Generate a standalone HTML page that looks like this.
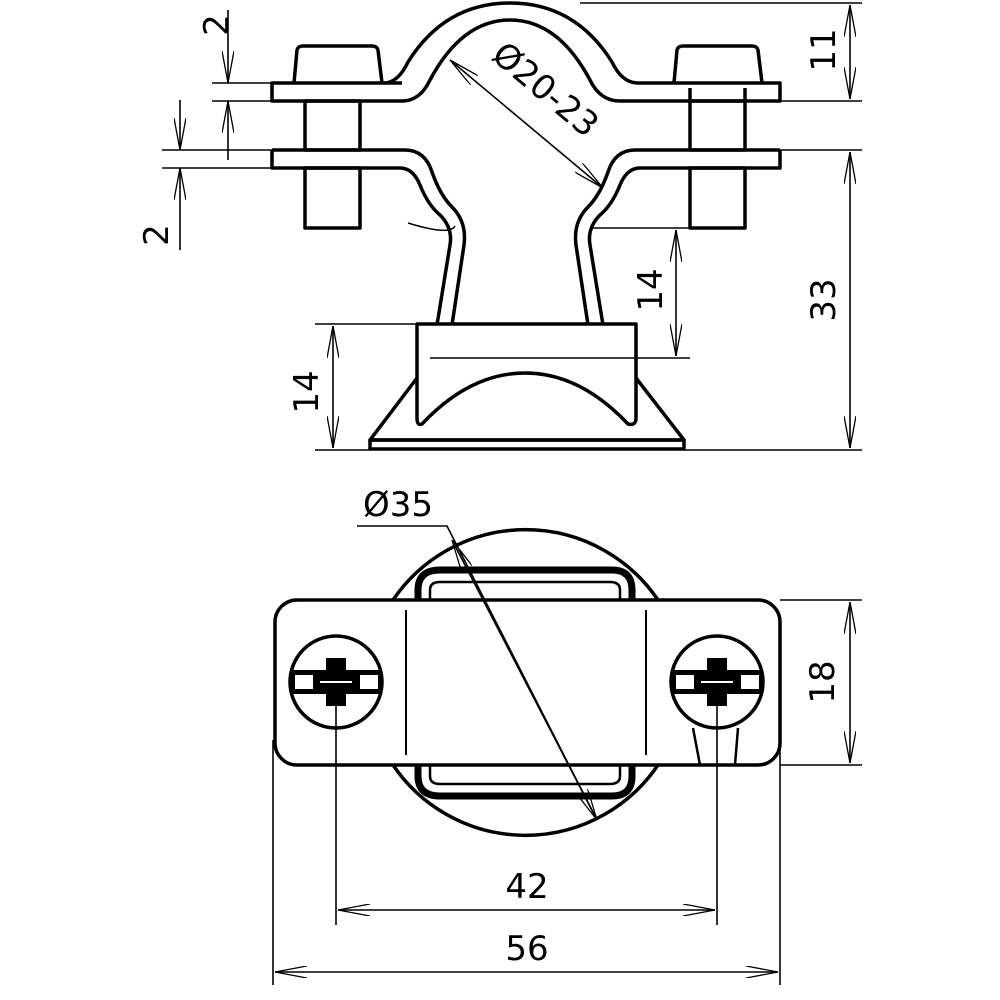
<!DOCTYPE html>
<html><head><style>body{margin:0;background:#fff}svg{display:block}text{font-family:"DejaVu Sans","Liberation Sans",sans-serif;font-size:34px;fill:#000}</style></head><body>
<svg width="1000" height="1000" viewBox="0 0 1000 1000" xmlns="http://www.w3.org/2000/svg">
<defs><marker id="a" viewBox="0 0 32 12" refX="32" refY="6" markerWidth="32" markerHeight="12" markerUnits="userSpaceOnUse" orient="auto-start-reverse"><path d="M0,0 L32,6 L0,12" fill="none" stroke="#000" stroke-width="1.3"/></marker></defs>
<g fill="none" stroke="#000" stroke-width="3.5" stroke-linejoin="round">
<path d="M294,83 L297,50 Q298,46 303,46 L372,46 Q377,46 378,50 L382,83"/>
<path d="M674,83 L677,50 Q678,46 683,46 L752,46 Q757,46 758,50 L762,83"/>
<rect x="305" y="101" width="55" height="49"/><rect x="305" y="168" width="55" height="60"/>
<rect x="690" y="101" width="55" height="49"/><rect x="690" y="168" width="55" height="60"/>
<line x1="690" y1="88" x2="690" y2="101"/><line x1="745" y1="88" x2="745" y2="101"/>
<path d="M402,83 L272,83 L272,101 L402,101 Q420,101 430,80 Q462,20 510,20 Q558,20 590,80 Q600,101 620,101 L780,101 L780,83 L638,83 Q622,83 612,62 Q575,3 510,3 Q445,3 408,62 Q398,83 384,83"/>
<path d="M272,150 L272,168 L400,168 Q413,168 420,185 Q428,205 440,215 Q453,228 450,245 L437,325"/>
<path d="M452,325 L464,245 Q467,222 452,207 Q440,195 432,172 Q425,150 405,150 L272,150"/>
<path d="M780,150 L780,168 L640,168 Q627,168 620,185 Q612,205 600,215 Q587,228 590,245 L603,325"/>
<path d="M588,325 L576,245 Q573,222 588,207 Q600,195 608,172 Q615,150 635,150 L780,150"/>
<path d="M408,223 Q450,236 455,226" stroke-width="1.5"/>
<path d="M417,324 L636,324 L636,418 Q636,426 628,424 Q580,373 525,373 Q470,373 422,424 Q417,426 417,418 Z"/>
<path d="M417,378 L370,440 L684,440 L636,378"/>
<rect x="370" y="440" width="314" height="9"/>
<path d="M393,600 A160,160 0 0 1 658,600"/>
<path d="M393,765 A160,160 0 0 0 658,765"/>
<path d="M418,600 L418,590 Q418,570 440,570 L612,570 Q632,570 632,590 L632,600" stroke-width="7"/>
<path d="M418,765 L418,776 Q418,796 440,796 L612,796 Q632,796 632,776 L632,765" stroke-width="7"/>
<path d="M430,600 L430,590 Q430,582 440,582 L610,582 Q620,582 620,590 L620,600" stroke-width="2.5"/>
<path d="M430,765 L430,776 Q430,784 440,784 L610,784 Q620,784 620,776 L620,765" stroke-width="2.5"/>
<rect x="275" y="600" width="505" height="165" rx="22"/>
<line x1="406" y1="610" x2="406" y2="755" stroke-width="2"/><line x1="646" y1="610" x2="646" y2="755" stroke-width="2"/>
<circle cx="336" cy="682" r="46"/><circle cx="717" cy="682" r="46"/>
<path d="M693,728 L700,765 M738,728 L735,765" stroke-width="2.5"/>
</g>
<g fill="#000">
<rect x="290" y="670" width="92" height="24"/><rect x="326" y="658" width="20" height="48"/>
<rect x="671" y="670" width="92" height="24"/><rect x="707" y="658" width="20" height="48"/>
</g>
<g fill="#fff"><rect x="295" y="675" width="18" height="14"/><rect x="360" y="675" width="18" height="14"/><rect x="676" y="675" width="18" height="14"/><rect x="741" y="675" width="18" height="14"/></g>
<g stroke="#fff" stroke-width="2"><line x1="320" y1="682" x2="352" y2="682"/><line x1="701" y1="682" x2="733" y2="682"/></g>
<g fill="none" stroke="#000" stroke-width="1.6">
<line x1="580" y1="3" x2="862" y2="3"/><line x1="780" y1="101" x2="862" y2="101"/><line x1="780" y1="150" x2="862" y2="150"/><line x1="684" y1="450" x2="862" y2="450"/>
<line x1="850" y1="5" x2="850" y2="99" marker-start="url(#a)" marker-end="url(#a)"/>
<line x1="850" y1="152" x2="850" y2="448" marker-start="url(#a)" marker-end="url(#a)"/>
<line x1="590" y1="228" x2="690" y2="228"/><line x1="430" y1="358" x2="690" y2="358"/>
<line x1="676" y1="230" x2="676" y2="356" marker-start="url(#a)" marker-end="url(#a)"/>
<line x1="315" y1="324" x2="417" y2="324"/><line x1="315" y1="450" x2="370" y2="450"/>
<line x1="333" y1="326" x2="333" y2="448" marker-start="url(#a)" marker-end="url(#a)"/>
<line x1="212" y1="83" x2="272" y2="83"/><line x1="212" y1="101" x2="272" y2="101"/>
<line x1="228" y1="10" x2="228" y2="83" marker-end="url(#a)"/><line x1="228" y1="160" x2="228" y2="101" marker-end="url(#a)"/>
<line x1="162" y1="150" x2="272" y2="150"/><line x1="162" y1="168" x2="272" y2="168"/>
<line x1="180" y1="100" x2="180" y2="150" marker-end="url(#a)"/><line x1="180" y1="250" x2="180" y2="168" marker-end="url(#a)"/>
<line x1="450" y1="60" x2="603" y2="188" marker-start="url(#a)" marker-end="url(#a)"/>
<polyline points="357,526 447,526 597,820"/>
<line x1="452" y1="540" x2="597" y2="820" marker-start="url(#a)" marker-end="url(#a)"/>
<line x1="780" y1="600" x2="862" y2="600"/><line x1="780" y1="765" x2="862" y2="765"/>
<line x1="850" y1="602" x2="850" y2="763" marker-start="url(#a)" marker-end="url(#a)"/>
<line x1="273" y1="740" x2="273" y2="985"/><line x1="780" y1="740" x2="780" y2="985"/>
<line x1="336" y1="700" x2="336" y2="925"/><line x1="717" y1="700" x2="717" y2="925"/>
<line x1="338" y1="910" x2="715" y2="910" marker-start="url(#a)" marker-end="url(#a)"/>
<line x1="275" y1="972" x2="778" y2="972" marker-start="url(#a)" marker-end="url(#a)"/>
</g>
<text transform="translate(835,50) rotate(-90)" text-anchor="middle">11</text>
<text transform="translate(835,300) rotate(-90)" text-anchor="middle">33</text>
<text transform="translate(662,290) rotate(-90)" text-anchor="middle">14</text>
<text transform="translate(318,392) rotate(-90)" text-anchor="middle">14</text>
<text transform="translate(228,25) rotate(-90)" text-anchor="middle">2</text>
<text transform="translate(168,235) rotate(-90)" text-anchor="middle">2</text>
<text transform="translate(490,58) rotate(40)">Ø20-23</text>
<text x="398" y="516" text-anchor="middle">Ø35</text>
<text transform="translate(834,682) rotate(-90)" text-anchor="middle">18</text>
<text x="527" y="898" text-anchor="middle">42</text>
<text x="527" y="960" text-anchor="middle">56</text>
</svg>
</body></html>
